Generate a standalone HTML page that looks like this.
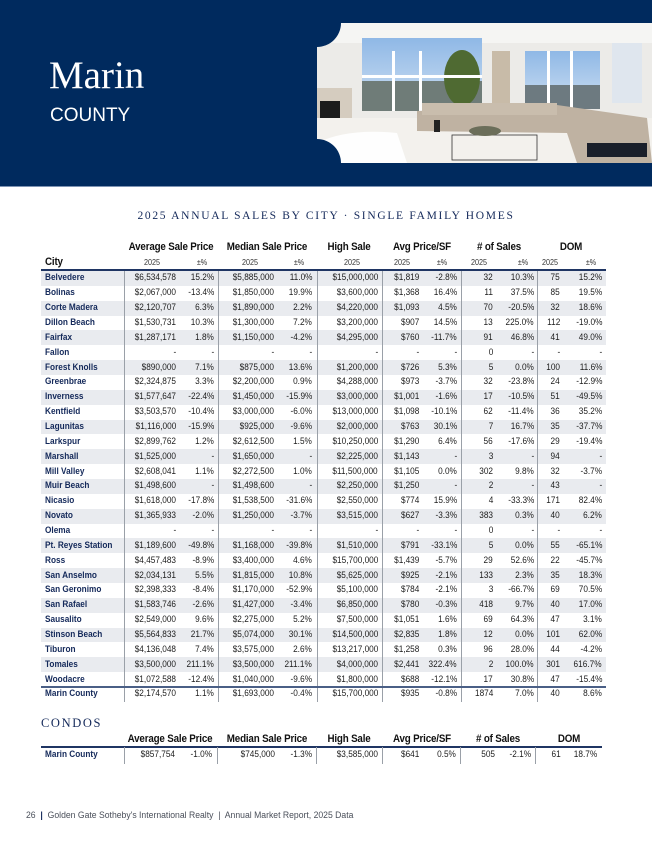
<!DOCTYPE html>
<html><head><meta charset="utf-8">
<style>
*{margin:0;padding:0;box-sizing:border-box}
body{width:652px;height:844px;background:#fff;position:relative;overflow:hidden;font-family:"Liberation Sans Narrow","Liberation Sans",sans-serif}
.abs{position:absolute;white-space:nowrap}
#hdr{position:absolute;left:0;top:0;width:652px;height:187px;background:#002a5e;border-bottom:1px solid #7d93b3}
.t{position:absolute;white-space:nowrap;font-size:9.6px;line-height:12px;color:#1c1c1c;transform:scaleX(0.86)}
.ar{transform-origin:right center}.al{transform-origin:left center}.ac{transform-origin:center center}
.city{color:#14295a;font-weight:bold}
.gh{font-weight:bold;font-size:11.4px;color:#111;letter-spacing:-0.2px}
.sh{font-size:8.4px;color:#333}
</style></head><body>
<div id="hdr">
  <div class="abs" style="left:49px;top:56px;font-family:'Liberation Serif',serif;font-size:39px;color:#fff;line-height:40px">Marin</div>
  <div class="abs" style="left:50px;top:105px;font-family:'Liberation Sans',sans-serif;font-size:19px;color:#fff;line-height:22px">COUNTY</div>
  <svg style="position:absolute;left:317px;top:23px" width="335" height="140" viewBox="0 0 335 140">
    <defs>
      <mask id="m"><rect width="335" height="140" fill="#fff"/><circle cx="0" cy="0" r="24" fill="#000"/><circle cx="0" cy="140" r="24" fill="#000"/></mask>
      <linearGradient id="sky" x1="0" y1="0" x2="0" y2="1"><stop offset="0" stop-color="#8fb8e6"/><stop offset="1" stop-color="#cfe0f2"/></linearGradient>
    </defs>
    <g mask="url(#m)">
      <rect width="335" height="140" fill="#ecebe8"/>
      <rect x="0" y="0" width="335" height="20" fill="#f5f5f3"/>
      <rect x="45" y="15" width="120" height="72" fill="url(#sky)"/>
      <rect x="45" y="58" width="120" height="30" fill="#6f7c78"/>
      <ellipse cx="145" cy="55" rx="18" ry="28" fill="#4f6a32"/>
      <rect x="75" y="28" width="3" height="60" fill="#fff"/><rect x="102" y="28" width="3" height="60" fill="#fff"/><rect x="45" y="52" width="120" height="3" fill="#fff"/>
      <rect x="175" y="28" width="18" height="60" fill="#c8bba8"/>
      <rect x="208" y="28" width="75" height="58" fill="url(#sky)"/>
      <rect x="208" y="62" width="75" height="24" fill="#6d7a80"/>
      <rect x="230" y="28" width="3" height="58" fill="#fff"/><rect x="253" y="28" width="3" height="58" fill="#fff"/>
      <rect x="295" y="20" width="30" height="60" fill="#dfe6ee"/>
      <rect x="0" y="65" width="35" height="50" fill="#d5ccbf"/><rect x="3" y="78" width="20" height="35" fill="#1c1c1c"/>
      <rect x="0" y="95" width="335" height="45" fill="#f3f1ed"/>
      <path d="M100 88 L240 82 L330 95 L335 140 L260 140 L250 110 L100 108 Z" fill="#bfb2a2"/>
      <rect x="105" y="80" width="135" height="12" fill="#c9bdad"/>
      <rect x="270" y="120" width="60" height="14" fill="#1a1f2a"/>
      <path d="M0 120 Q30 105 80 110 L90 140 L0 140 Z" fill="#fff" opacity="0.9"/>
      <rect x="135" y="112" width="85" height="25" fill="none" stroke="#333" stroke-width="0.8"/>
      <ellipse cx="168" cy="108" rx="16" ry="5" fill="#6b6e5a"/>
      <rect x="117" y="97" width="6" height="12" fill="#222"/>
    </g>
  </svg>
</div>

<div class="abs" style="left:0;width:652px;text-align:center;top:209px;font-family:'Liberation Serif',serif;font-size:11.5px;letter-spacing:1.7px;color:#14295a;line-height:14px">2025 ANNUAL SALES BY CITY · SINGLE FAMILY HOMES</div>

<div id="tbl"></div>

<div class="abs" style="left:41px;top:716px;font-family:'Liberation Serif',serif;font-size:12.5px;letter-spacing:1.6px;color:#14295a">CONDOS</div>
<div id="ctbl"></div>

<div class="abs" style="left:26px;top:810px;font-size:9.6px;color:#4a4f5a;transform:scaleX(0.9);transform-origin:left center">26 &nbsp;<span style="color:#14295a;font-weight:bold">|</span>&nbsp; Golden Gate Sotheby's International Realty &nbsp;|&nbsp; Annual Market Report, 2025 Data</div>

<script>
const cities=["Belvedere","Bolinas","Corte Madera","Dillon Beach","Fairfax","Fallon","Forest Knolls","Greenbrae","Inverness","Kentfield","Lagunitas","Larkspur","Marshall","Mill Valley","Muir Beach","Nicasio","Novato","Olema","Pt. Reyes Station","Ross","San Anselmo","San Geronimo","San Rafael","Sausalito","Stinson Beach","Tiburon","Tomales","Woodacre","Marin County"];
const avgPrice=["$6,534,578","$2,067,000","$2,120,707","$1,530,731","$1,287,171","-","$890,000","$2,324,875","$1,577,647","$3,503,570","$1,116,000","$2,899,762","$1,525,000","$2,608,041","$1,498,600","$1,618,000","$1,365,933","-","$1,189,600","$4,457,483","$2,034,131","$2,398,333","$1,583,746","$2,549,000","$5,564,833","$4,136,048","$3,500,000","$1,072,588","$2,174,570"];
const avgPct=["15.2%","-13.4%","6.3%","10.3%","1.8%","-","7.1%","3.3%","-22.4%","-10.4%","-15.9%","1.2%","-","1.1%","-","-17.8%","-2.0%","-","-49.8%","-8.9%","5.5%","-8.4%","-2.6%","9.6%","21.7%","7.4%","211.1%","-12.4%","1.1%"];
const medPrice=["$5,885,000","$1,850,000","$1,890,000","$1,300,000","$1,150,000","-","$875,000","$2,200,000","$1,450,000","$3,000,000","$925,000","$2,612,500","$1,650,000","$2,272,500","$1,498,600","$1,538,500","$1,250,000","-","$1,168,000","$3,400,000","$1,815,000","$1,170,000","$1,427,000","$2,275,000","$5,074,000","$3,575,000","$3,500,000","$1,040,000","$1,693,000"];
const medPct=["11.0%","19.9%","2.2%","7.2%","-4.2%","-","13.6%","0.9%","-15.9%","-6.0%","-9.6%","1.5%","-","1.0%","-","-31.6%","-3.7%","-","-39.8%","4.6%","10.8%","-52.9%","-3.4%","5.2%","30.1%","2.6%","211.1%","-9.6%","-0.4%"];
const highSale=["$15,000,000","$3,600,000","$4,220,000","$3,200,000","$4,295,000","-","$1,200,000","$4,288,000","$3,000,000","$13,000,000","$2,000,000","$10,250,000","$2,225,000","$11,500,000","$2,250,000","$2,550,000","$3,515,000","-","$1,510,000","$15,700,000","$5,625,000","$5,100,000","$6,850,000","$7,500,000","$14,500,000","$13,217,000","$4,000,000","$1,800,000","$15,700,000"];
const ppsf=["$1,819","$1,368","$1,093","$907","$760","-","$726","$973","$1,001","$1,098","$763","$1,290","$1,143","$1,105","$1,250","$774","$627","-","$791","$1,439","$925","$784","$780","$1,051","$2,835","$1,258","$2,441","$688","$935"];
const ppsfPct=["-2.8%","16.4%","4.5%","14.5%","-11.7%","-","5.3%","-3.7%","-1.6%","-10.1%","30.1%","6.4%","-","0.0%","-","15.9%","-3.3%","-","-33.1%","-5.7%","-2.1%","-2.1%","-0.3%","1.6%","1.8%","0.3%","322.4%","-12.1%","-0.8%"];
const sales=["32","11","70","13","91","0","5","32","17","62","7","56","3","302","2","4","383","0","5","29","133","3","418","69","12","96","2","17","1874"];
const salesPct=["10.3%","37.5%","-20.5%","225.0%","46.8%","-","0.0%","-23.8%","-10.5%","-11.4%","16.7%","-17.6%","-","9.8%","-","-33.3%","0.3%","-","0.0%","52.6%","2.3%","-66.7%","9.7%","64.3%","0.0%","28.0%","100.0%","30.8%","7.0%"];
const dom=["75","85","32","112","41","-","100","24","51","36","35","29","94","32","43","171","40","-","55","22","35","69","40","47","101","44","301","47","40"];
const domPct=["15.2%","19.5%","18.6%","-19.0%","49.0%","-","11.6%","-12.9%","-49.5%","35.2%","-37.7%","-19.4%","-","-3.7%","-","82.4%","6.2%","-","-65.1%","-45.7%","18.3%","70.5%","17.0%","3.1%","62.0%","-4.2%","616.7%","-15.4%","8.6%"];
const groups=["Average Sale Price","Median Sale Price","High Sale","Avg Price/SF","# of Sales","DOM"];
const condoRow=["$857,754","-1.0%","$745,000","-1.3%","$3,585,000","$641","0.5%","505","-2.1%","61","18.7%"];

const cols=[avgPrice,avgPct,medPrice,medPct,highSale,ppsf,ppsfPct,sales,salesPct,dom,domPct];
const colRight=[176,214,274,312,378,419,457,493,534,560,602];
const subCenter=[152,202,250,299,352,402,442,479,523,550,591];
const subLbl=["2025","±%","2025","±%","2025","2025","±%","2025","±%","2025","±%"];
const grpCenter=[171,267,349,422,499,571];
const seps=[124,218,317,382,461,537];
const L=41,R=606,TOP=270,RH=14.857;

function mk(parent,cls,txt,x,y,align){
  const d=document.createElement('div');
  d.className='t '+cls+' a'+align;d.textContent=txt;
  d.style.top=(y-6)+'px';
  if(align==='r'){d.style.right=(652-x)+'px';}
  else if(align==='c'){d.style.left=(x-60)+'px';d.style.width='120px';d.style.textAlign='center';}
  else d.style.left=x+'px';
  parent.appendChild(d);return d;
}
function box(parent,x,y,w,h,bg){
  const d=document.createElement('div');d.style.cssText=`position:absolute;left:${x}px;top:${y}px;width:${w}px;height:${h}px;background:${bg}`;parent.appendChild(d);return d;
}
const tb=document.getElementById('tbl');
for(let i=0;i<cities.length-1;i++){
  if(i%2===0){const s=box(tb,L,TOP+i*RH+1,R-L,RH,'#e9ebef');
    
    }
}
const bottom=TOP+cities.length*RH+1;
seps.forEach(x=>{const s=box(tb,x,TOP,1,bottom-TOP,'#9aa0a8');
  
  });
const hl=box(tb,L,TOP-1,R-L,2,'#1f3563');


const tl=box(tb,L,TOP+(cities.length-1)*RH,R-L,2,'#4a5f86');


groups.forEach((g,i)=>{const e=mk(tb,'gh',g,grpCenter[i],247,'c');
  
  });
const ch=mk(tb,'gh','City',45,262,'l');


subLbl.forEach((s,i)=>{const e=mk(tb,'sh',s,subCenter[i],262,'c');
  
  });
cities.forEach((c,i)=>{
  const y=TOP+i*RH+RH/2+1;
  const e=mk(tb,'city',c,45,y,'l');
  
  
  cols.forEach((col,j)=>{const v=mk(tb,'',col[i],colRight[j],y,'r');
    
    });
});
const ct=document.getElementById('ctbl');
const cRight=[175,212,275,312,378,419,456,495,531,561,597];
const cGrp=[170,267,349,422,498,569];
const cSeps=[124,217,316,382,460,535];
cGrp.forEach((x,i)=>{const e=mk(ct,'gh',groups[i],x,739,'c');
  
  });
const cl=box(ct,L,746,602-L,2,'#1f3563');


cSeps.forEach(x=>{const s=box(ct,x,747,1,17,'#9aa0a8');
  
  });
const cc=mk(ct,'city','Marin County',45,755,'l');


condoRow.forEach((v,j)=>{const e=mk(ct,'',v,cRight[j],755,'r');
  
  });
</script>
</body></html>
